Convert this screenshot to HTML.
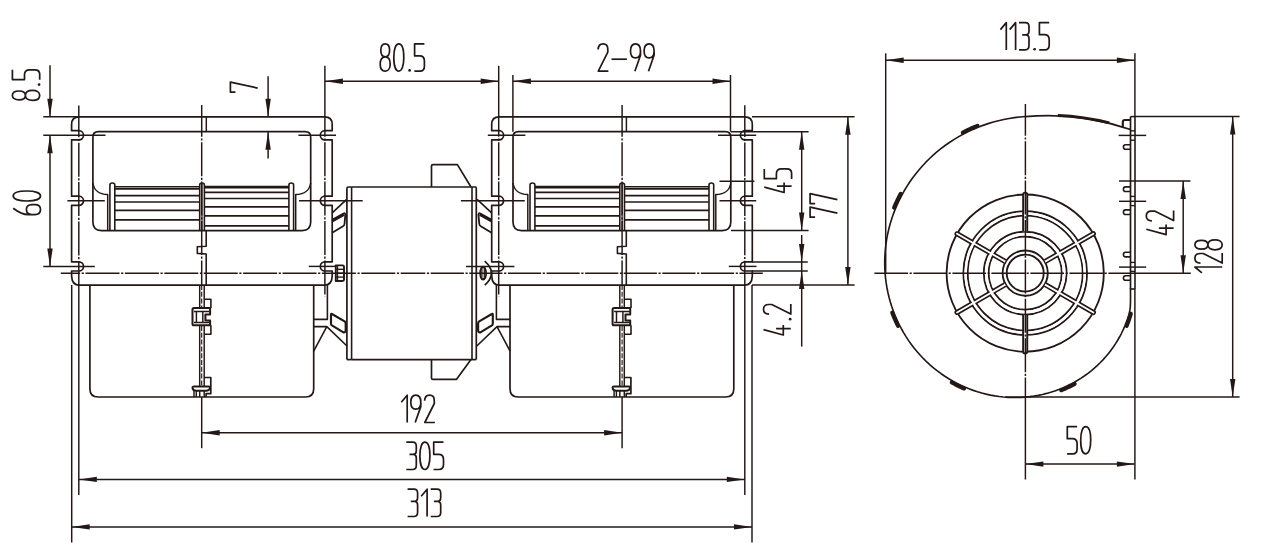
<!DOCTYPE html>
<html><head><meta charset="utf-8"><title>Blower drawing</title>
<style>
html,body{margin:0;padding:0;background:#fff;}
body{width:1263px;height:556px;overflow:hidden;font-family:"Liberation Sans",sans-serif;}
svg{display:block;}
</style></head><body>
<svg width="1263" height="556" viewBox="0 0 1263 556">
<desc>Dimensioned drawing of a double-inlet centrifugal blower: front view (8.5, 60, 7, 80.5, 2-99, 45, 77, 4.2, 192, 305, 313) and side view (113.5, 42, 128, 50).</desc>
<rect x="0" y="0" width="1263" height="556" fill="#ffffff"/>
<g fill="none" stroke="#231815" stroke-linecap="butt" stroke-linejoin="round">
<path d="M79.2,116.8 Q71.6,116.8 71.6,124.4 L71.6,130.7 L78.9,130.7 A4.6,4.6 0 0 1 78.9,139.9 L71.6,139.9 L71.6,196.2 L78.9,196.2 A4.6,4.6 0 0 1 78.9,205.4 L71.6,205.4 L71.6,261.8 L78.9,261.8 A4.6,4.6 0 0 1 78.9,271 L71.6,271 L71.6,276.1 Q72,285.1 79.4,285.1 L324.4,285.1 Q331.8,285.1 332.2,276.1 L332.2,271 L324.9,271 A4.6,4.6 0 0 1 324.9,261.8 L332.2,261.8 L332.2,205.4 L324.9,205.4 A4.6,4.6 0 0 1 324.9,196.2 L332.2,196.2 L332.2,139.9 L324.9,139.9 A4.6,4.6 0 0 1 324.9,130.7 L332.2,130.7 L332.2,124.4 Q332.2,116.8 324.6,116.8 Z" stroke-width="1.69" fill="none"/>
<path d="M101.4,230.6 L302.2,230.6 Q310.7,230.6 310.7,222.1 L310.7,137.2 Q310.7,131.7 305.2,131.7 L98.4,131.7 Q92.9,131.7 92.9,137.2 L92.9,222.1 Q92.9,230.6 101.4,230.6" stroke-width="1.69" fill="none"/>
<path d="M92.9,183 Q94.4,194 107.7,194.6 L107.7,230.6" stroke-width="1.47" fill="none"/>
<path d="M310.7,183 Q309.2,194 295.7,194.6 L295.7,230.6" stroke-width="1.47" fill="none"/>
<path d="M109.9,230.6 L109.9,185 Q109.9,183 112.35,183 Q114.8,183 114.8,185 L114.8,230.6" stroke-width="1.58" fill="none"/>
<path d="M288.9,230.6 L288.9,185 Q288.9,183 291.25,183 Q293.6,183 293.6,185 L293.6,230.6" stroke-width="1.58" fill="none"/>
<path d="M199.7,230.6 L199.7,185 Q199.7,183 202.05,183 Q204.4,183 204.4,185 L204.4,230.6" stroke-width="1.58" fill="none"/>
<line x1="202" y1="184" x2="202" y2="230.6" stroke-width="1.13"/>
<line x1="114.8" y1="186.8" x2="199.7" y2="186.8" stroke-width="1.64"/>
<line x1="114.8" y1="188.9" x2="199.7" y2="188.9" stroke-width="1.64"/>
<line x1="114.8" y1="195.6" x2="199.7" y2="195.6" stroke-width="1.64"/>
<line x1="114.8" y1="202" x2="199.7" y2="202" stroke-width="1.64"/>
<line x1="114.8" y1="210.4" x2="199.7" y2="210.4" stroke-width="1.64"/>
<line x1="114.8" y1="219.9" x2="199.7" y2="219.9" stroke-width="1.64"/>
<line x1="204.3" y1="186.5" x2="288.9" y2="186.5" stroke-width="1.64"/>
<line x1="204.3" y1="187.6" x2="288.9" y2="187.6" stroke-width="1.64"/>
<line x1="204.3" y1="192.4" x2="288.9" y2="192.4" stroke-width="1.64"/>
<line x1="204.3" y1="198.5" x2="288.9" y2="198.5" stroke-width="1.64"/>
<line x1="204.3" y1="206.9" x2="288.9" y2="206.9" stroke-width="1.64"/>
<line x1="204.3" y1="215.9" x2="288.9" y2="215.9" stroke-width="1.64"/>
<line x1="204.3" y1="225.9" x2="288.9" y2="225.9" stroke-width="1.64"/>
<line x1="206.3" y1="116.8" x2="206.3" y2="131.7" stroke-width="1.47"/>
<path d="M206.2,230.6 L206.2,246.3 L197.3,246.8 L197.3,253.4 L206.2,254 L206.2,285.1" stroke-width="1.58" fill="none"/>
<path d="M89.9,285.1 L89.9,388.7 Q89.9,397 98.2,397 L305.4,397 Q313.7,397 313.7,388.7 L313.7,285.1" stroke-width="1.69" fill="none"/>
<line x1="199.7" y1="285.1" x2="199.7" y2="397" stroke-width="1.47"/>
<line x1="204.2" y1="285.1" x2="204.2" y2="397" stroke-width="1.47"/>
<path d="M204.4,299.3 L210.9,299.3 L210.9,308" stroke-width="1.58" fill="none"/>
<path d="M210.1,308 L194,308 Q192.5,308 192.5,309.6 L192.5,323.7 Q192.5,325.3 194,325.3 L210.1,325.3 L210.1,320.6 L205.4,320.6 L205.4,314.6 L210.1,314.6 Z" stroke-width="2.03" fill="#fff"/>
<path d="M194,311.4 L209.6,311.4 M194,322.6 L209.6,322.6 M196.4,311.4 L196.4,322.6 M202.8,311.4 L202.8,322.6" stroke-width="1.47" fill="none"/>
<path d="M210.9,325.3 L210.9,334.3 L204.4,334.3" stroke-width="1.58" fill="none"/>
<path d="M204.2,377.5 L210.8,377.5 L210.8,393.7 L206.1,393.7 L206.1,397" stroke-width="1.69" fill="none"/>
<path d="M194,386.5 L208.6,386.5 Q210.3,386.5 210,388 Q209.5,390.7 206,390.7 L196.4,390.7 Q192.9,390.7 192.5,388 Q192.2,386.5 194,386.5 Z" stroke-width="1.92" fill="#fff"/>
<path d="M194,390.4 L194,397 M196.3,390.7 L196.3,397" stroke-width="1.47" fill="none"/>
<g transform="translate(420.1,0)">
<path d="M79.2,116.8 Q71.6,116.8 71.6,124.4 L71.6,130.7 L78.9,130.7 A4.6,4.6 0 0 1 78.9,139.9 L71.6,139.9 L71.6,196.2 L78.9,196.2 A4.6,4.6 0 0 1 78.9,205.4 L71.6,205.4 L71.6,261.8 L78.9,261.8 A4.6,4.6 0 0 1 78.9,271 L71.6,271 L71.6,276.1 Q72,285.1 79.4,285.1 L324.4,285.1 Q331.8,285.1 332.2,276.1 L332.2,271 L324.9,271 A4.6,4.6 0 0 1 324.9,261.8 L332.2,261.8 L332.2,205.4 L324.9,205.4 A4.6,4.6 0 0 1 324.9,196.2 L332.2,196.2 L332.2,139.9 L324.9,139.9 A4.6,4.6 0 0 1 324.9,130.7 L332.2,130.7 L332.2,124.4 Q332.2,116.8 324.6,116.8 Z" stroke-width="1.69" fill="none"/>
<path d="M101.4,230.6 L302.2,230.6 Q310.7,230.6 310.7,222.1 L310.7,137.2 Q310.7,131.7 305.2,131.7 L98.4,131.7 Q92.9,131.7 92.9,137.2 L92.9,222.1 Q92.9,230.6 101.4,230.6" stroke-width="1.69" fill="none"/>
<path d="M92.9,183 Q94.4,194 107.7,194.6 L107.7,230.6" stroke-width="1.47" fill="none"/>
<path d="M310.7,183 Q309.2,194 295.7,194.6 L295.7,230.6" stroke-width="1.47" fill="none"/>
<path d="M109.9,230.6 L109.9,185 Q109.9,183 112.35,183 Q114.8,183 114.8,185 L114.8,230.6" stroke-width="1.58" fill="none"/>
<path d="M288.9,230.6 L288.9,185 Q288.9,183 291.25,183 Q293.6,183 293.6,185 L293.6,230.6" stroke-width="1.58" fill="none"/>
<path d="M199.7,230.6 L199.7,185 Q199.7,183 202.05,183 Q204.4,183 204.4,185 L204.4,230.6" stroke-width="1.58" fill="none"/>
<line x1="202" y1="184" x2="202" y2="230.6" stroke-width="1.13"/>
<line x1="114.8" y1="186.5" x2="199.7" y2="186.5" stroke-width="1.64"/>
<line x1="114.8" y1="187.6" x2="199.7" y2="187.6" stroke-width="1.64"/>
<line x1="114.8" y1="192.4" x2="199.7" y2="192.4" stroke-width="1.64"/>
<line x1="114.8" y1="198.5" x2="199.7" y2="198.5" stroke-width="1.64"/>
<line x1="114.8" y1="206.9" x2="199.7" y2="206.9" stroke-width="1.64"/>
<line x1="114.8" y1="215.9" x2="199.7" y2="215.9" stroke-width="1.64"/>
<line x1="114.8" y1="225.9" x2="199.7" y2="225.9" stroke-width="1.64"/>
<line x1="204.3" y1="186.8" x2="288.9" y2="186.8" stroke-width="1.64"/>
<line x1="204.3" y1="188.9" x2="288.9" y2="188.9" stroke-width="1.64"/>
<line x1="204.3" y1="195.6" x2="288.9" y2="195.6" stroke-width="1.64"/>
<line x1="204.3" y1="202" x2="288.9" y2="202" stroke-width="1.64"/>
<line x1="204.3" y1="210.4" x2="288.9" y2="210.4" stroke-width="1.64"/>
<line x1="204.3" y1="219.9" x2="288.9" y2="219.9" stroke-width="1.64"/>
<line x1="206.3" y1="116.8" x2="206.3" y2="131.7" stroke-width="1.47"/>
<path d="M206.2,230.6 L206.2,246.3 L197.3,246.8 L197.3,253.4 L206.2,254 L206.2,285.1" stroke-width="1.58" fill="none"/>
<path d="M89.9,285.1 L89.9,388.7 Q89.9,397 98.2,397 L305.4,397 Q313.7,397 313.7,388.7 L313.7,285.1" stroke-width="1.69" fill="none"/>
<line x1="199.7" y1="285.1" x2="199.7" y2="397" stroke-width="1.47"/>
<line x1="204.2" y1="285.1" x2="204.2" y2="397" stroke-width="1.47"/>
<path d="M204.4,299.3 L210.9,299.3 L210.9,308" stroke-width="1.58" fill="none"/>
<path d="M210.1,308 L194,308 Q192.5,308 192.5,309.6 L192.5,323.7 Q192.5,325.3 194,325.3 L210.1,325.3 L210.1,320.6 L205.4,320.6 L205.4,314.6 L210.1,314.6 Z" stroke-width="2.03" fill="#fff"/>
<path d="M194,311.4 L209.6,311.4 M194,322.6 L209.6,322.6 M196.4,311.4 L196.4,322.6 M202.8,311.4 L202.8,322.6" stroke-width="1.47" fill="none"/>
<path d="M210.9,325.3 L210.9,334.3 L204.4,334.3" stroke-width="1.58" fill="none"/>
<path d="M204.2,377.5 L210.8,377.5 L210.8,393.7 L206.1,393.7 L206.1,397" stroke-width="1.69" fill="none"/>
<path d="M194,386.5 L208.6,386.5 Q210.3,386.5 210,388 Q209.5,390.7 206,390.7 L196.4,390.7 Q192.9,390.7 192.5,388 Q192.2,386.5 194,386.5 Z" stroke-width="1.92" fill="#fff"/>
<path d="M194,390.4 L194,397 M196.3,390.7 L196.3,397" stroke-width="1.47" fill="none"/>
</g>
<path d="M346.9,359.6 L346.9,188.5 Q346.9,187 348.4,187 L351.6,187" stroke-width="1.69" fill="none"/>
<line x1="351.6" y1="187" x2="351.6" y2="359.6" stroke-width="1.58"/>
<line x1="332.2" y1="212.8" x2="346.7" y2="199.4" stroke-width="1.64"/>
<path d="M332.2,219.8 L343.5,213.5 Q345.5,212.6 345.3,215.4 L344.5,224 Q344.3,225.6 343,226.3 L332.2,232.7" stroke-width="1.81" fill="none"/>
<line x1="332.2" y1="221" x2="344" y2="214.6" stroke-width="2.71"/>
<path d="M327.4,285.1 L327.4,319.4 L313.7,319.4 M313.7,326.6 L326.8,326.6 L313.7,351.2 M326.8,326.6 L347,346" stroke-width="1.58" fill="none"/>
<path d="M332.4,314.2 L344.6,321.4 Q345.7,322.2 345.7,323.6 L345.7,330.4 Q345.6,333 343,332.2 L331.9,325.4 Q331,324.8 331,323.4 L331,315 Q331,313 332.4,314.2 Z" stroke-width="2.15" fill="none"/>
<path d="M476.3,359.6 L476.3,188.5 Q476.3,187 475.4,187 L472,187" stroke-width="1.69" fill="none"/>
<line x1="472" y1="187" x2="472" y2="359.6" stroke-width="1.58"/>
<line x1="491.6" y1="212.8" x2="477.1" y2="199.4" stroke-width="1.64"/>
<path d="M491.6,219.8 L480.3,213.5 Q478.3,212.6 478.5,215.4 L479.3,224 Q479.5,225.6 480.8,226.3 L491.6,232.7" stroke-width="1.81" fill="none"/>
<line x1="491.6" y1="221" x2="479.8" y2="214.6" stroke-width="2.71"/>
<path d="M496.4,285.1 L496.4,319.4 L510.1,319.4 M510.1,326.6 L497,326.6 L510.1,351.2 M497,326.6 L476.8,346" stroke-width="1.58" fill="none"/>
<path d="M491.4,314.2 L479.2,321.4 Q478.1,322.2 478.1,323.6 L478.1,330.4 Q478.2,333 480.8,332.2 L491.9,325.4 Q492.8,324.8 492.8,323.4 L492.8,315 Q492.8,313 491.4,314.2 Z" stroke-width="2.15" fill="none"/>
<line x1="351.6" y1="187" x2="472" y2="187" stroke-width="1.69"/>
<line x1="351.6" y1="359.6" x2="472" y2="359.6" stroke-width="1.69"/>
<line x1="346.9" y1="359.6" x2="351.6" y2="359.6" stroke-width="1.69"/>
<line x1="472" y1="359.6" x2="476.3" y2="359.6" stroke-width="1.69"/>
<path d="M431.5,187 L431.5,166 Q431.5,164.6 433,164.6 L457.4,164.6 L471,187" stroke-width="1.69" fill="none"/>
<path d="M431.5,359.6 L431.5,378 Q431.5,379.4 433,379.4 L456.4,379.4 L471,359.6" stroke-width="1.69" fill="none"/>
<path d="M335.8,265.4 L342.6,265.4 Q344,265.4 344,266.8 L344,279.6 Q344,281 342.6,281 L335.8,281 Z" stroke-width="1.92" fill="none"/>
<line x1="335.8" y1="269.3" x2="344" y2="269.3" stroke-width="1.36"/>
<line x1="335.8" y1="273.2" x2="344" y2="273.2" stroke-width="1.36"/>
<line x1="335.8" y1="277.1" x2="344" y2="277.1" stroke-width="1.36"/>
<line x1="337.6" y1="265.4" x2="337.6" y2="281" stroke-width="1.13"/>
<ellipse cx="483.1" cy="273.2" rx="3" ry="6.5" stroke-width="1.7"/>
<path d="M481.9,267.6 L484.3,267.6 L484.3,278.8 L481.9,278.8 Z" stroke-width="1.24" fill="none"/>
<path d="M484.7,261.2 Q498.2,273.2 484.7,285.2" stroke-width="1.69" fill="none"/>
<line x1="60.8" y1="273.2" x2="413" y2="273.2" stroke-width="1.47" stroke-dasharray="34 1.6 2.2 1.6" stroke-dashoffset="14.7"/>
<line x1="413" y1="273.2" x2="762.8" y2="273.2" stroke-width="1.47" stroke-dasharray="33.2 1.6 2.2 1.6" stroke-dashoffset="20.9"/>
<line x1="201.7" y1="105" x2="201.7" y2="285" stroke-width="1.47" stroke-dasharray="34 1.6 2.2 1.6" stroke-dashoffset="2.2"/>
<line x1="201.7" y1="285" x2="201.7" y2="307" stroke-width="1.13" stroke-dasharray="5 1.8"/>
<line x1="201.7" y1="326" x2="201.7" y2="386" stroke-width="1.13" stroke-dasharray="5 1.8"/>
<line x1="201.7" y1="397" x2="201.7" y2="448.2" stroke-width="1.47"/>
<line x1="622.1" y1="105" x2="622.1" y2="285" stroke-width="1.47" stroke-dasharray="34 1.6 2.2 1.6" stroke-dashoffset="2.2"/>
<line x1="622.1" y1="285" x2="622.1" y2="307" stroke-width="1.13" stroke-dasharray="5 1.8"/>
<line x1="622.1" y1="326" x2="622.1" y2="386" stroke-width="1.13" stroke-dasharray="5 1.8"/>
<line x1="622.1" y1="397" x2="622.1" y2="448.2" stroke-width="1.47"/>
<line x1="78.8" y1="105.5" x2="78.8" y2="285" stroke-width="1.47" stroke-dasharray="34 1.6 2.2 1.6" stroke-dashoffset="2.2"/>
<line x1="78.8" y1="285" x2="78.8" y2="494.9" stroke-width="1.47"/>
<line x1="324.9" y1="65.8" x2="324.9" y2="105" stroke-width="1.47"/>
<line x1="324.9" y1="105" x2="324.9" y2="296.3" stroke-width="1.47" stroke-dasharray="34 1.6 2.2 1.6" stroke-dashoffset="2.2"/>
<line x1="498.7" y1="65.8" x2="498.7" y2="105" stroke-width="1.47"/>
<line x1="498.7" y1="105" x2="498.7" y2="296.3" stroke-width="1.47" stroke-dasharray="34 1.6 2.2 1.6" stroke-dashoffset="2.2"/>
<line x1="744.8" y1="105.3" x2="744.8" y2="285" stroke-width="1.47" stroke-dasharray="34 1.6 2.2 1.6" stroke-dashoffset="2.2"/>
<line x1="744.8" y1="285" x2="744.8" y2="494.9" stroke-width="1.47"/>
<line x1="43.3" y1="135.3" x2="105.5" y2="135.3" stroke-width="1.47"/>
<line x1="298.4" y1="135.3" x2="336" y2="135.3" stroke-width="1.47"/>
<line x1="487.8" y1="135.3" x2="525.4" y2="135.3" stroke-width="1.47"/>
<line x1="718" y1="135.3" x2="756.2" y2="135.3" stroke-width="1.47"/>
<line x1="67.4" y1="200.8" x2="104.8" y2="200.8" stroke-width="1.47"/>
<line x1="299" y1="200.8" x2="362.7" y2="200.8" stroke-width="1.47"/>
<line x1="460.9" y1="200.8" x2="524.8" y2="200.8" stroke-width="1.47"/>
<line x1="719.5" y1="200.8" x2="756.2" y2="200.8" stroke-width="1.47"/>
<line x1="719.5" y1="181.2" x2="754.4" y2="181.2" stroke-width="1.47"/>
<line x1="43.3" y1="266.4" x2="94.8" y2="266.4" stroke-width="1.47"/>
<line x1="308.8" y1="266.4" x2="335.8" y2="266.4" stroke-width="1.47"/>
<line x1="466" y1="266.4" x2="514.4" y2="266.4" stroke-width="1.47"/>
<line x1="728.8" y1="266.4" x2="756.5" y2="266.4" stroke-width="1.47"/>
<line x1="43.3" y1="116.8" x2="79" y2="116.8" stroke-width="1.47"/>
<line x1="50" y1="65.3" x2="50" y2="116.8" stroke-width="1.47"/>
<polygon points="50,116.8 47.3,98.8 52.7,98.8" fill="#231815" stroke="none"/>
<line x1="50" y1="135.3" x2="50" y2="266.4" stroke-width="1.47"/>
<polygon points="50,135.3 47.3,153.3 52.7,153.3" fill="#231815" stroke="none"/>
<polygon points="50,266.4 47.3,248.4 52.7,248.4" fill="#231815" stroke="none"/>
<line x1="268.1" y1="76.3" x2="268.1" y2="116.8" stroke-width="1.47"/>
<polygon points="268.1,116.8 265.4,98.8 270.8,98.8" fill="#231815" stroke="none"/>
<line x1="268.1" y1="131.7" x2="268.1" y2="158.6" stroke-width="1.47"/>
<polygon points="268.1,131.7 265.4,149.7 270.8,149.7" fill="#231815" stroke="none"/>
<line x1="324.9" y1="81.3" x2="498.7" y2="81.3" stroke-width="1.47"/>
<polygon points="324.9,81.3 342.9,78.6 342.9,84" fill="#231815" stroke="none"/>
<polygon points="498.7,81.3 480.7,78.6 480.7,84" fill="#231815" stroke="none"/>
<line x1="512.9" y1="75" x2="512.9" y2="131.7" stroke-width="1.47"/>
<line x1="730.5" y1="75" x2="730.5" y2="131.7" stroke-width="1.47"/>
<line x1="512.9" y1="81.3" x2="730.5" y2="81.3" stroke-width="1.47"/>
<polygon points="512.9,81.3 530.9,78.6 530.9,84" fill="#231815" stroke="none"/>
<polygon points="730.5,81.3 712.5,78.6 712.5,84" fill="#231815" stroke="none"/>
<line x1="752" y1="116.8" x2="854.6" y2="116.8" stroke-width="1.47"/>
<line x1="731" y1="131.7" x2="808.6" y2="131.7" stroke-width="1.47"/>
<line x1="731" y1="230.6" x2="808.6" y2="230.6" stroke-width="1.47"/>
<line x1="752" y1="285.1" x2="854.6" y2="285.1" stroke-width="1.47"/>
<line x1="752" y1="261.9" x2="807.8" y2="261.9" stroke-width="1.47"/>
<line x1="752" y1="270.9" x2="807.8" y2="270.9" stroke-width="1.47"/>
<line x1="801.7" y1="131.7" x2="801.7" y2="230.6" stroke-width="1.47"/>
<polygon points="801.7,131.7 799,149.7 804.4,149.7" fill="#231815" stroke="none"/>
<polygon points="801.7,230.6 799,212.6 804.4,212.6" fill="#231815" stroke="none"/>
<line x1="801.7" y1="235" x2="801.7" y2="346.6" stroke-width="1.47"/>
<polygon points="801.7,261.9 799,243.9 804.4,243.9" fill="#231815" stroke="none"/>
<polygon points="801.7,270.9 799,288.9 804.4,288.9" fill="#231815" stroke="none"/>
<line x1="847.9" y1="116.8" x2="847.9" y2="285.1" stroke-width="1.47"/>
<polygon points="847.9,116.8 845.2,134.8 850.6,134.8" fill="#231815" stroke="none"/>
<polygon points="847.9,285.1 845.2,267.1 850.6,267.1" fill="#231815" stroke="none"/>
<line x1="201.7" y1="432.8" x2="622.1" y2="432.8" stroke-width="1.47"/>
<polygon points="201.7,432.8 219.7,430.1 219.7,435.5" fill="#231815" stroke="none"/>
<polygon points="622.1,432.8 604.1,430.1 604.1,435.5" fill="#231815" stroke="none"/>
<line x1="78.8" y1="479.4" x2="744.8" y2="479.4" stroke-width="1.47"/>
<polygon points="78.8,479.4 96.8,476.7 96.8,482.1" fill="#231815" stroke="none"/>
<polygon points="744.8,479.4 726.8,476.7 726.8,482.1" fill="#231815" stroke="none"/>
<line x1="71.7" y1="285.1" x2="71.7" y2="542.5" stroke-width="1.47"/>
<line x1="752" y1="285.1" x2="752" y2="542.5" stroke-width="1.47"/>
<line x1="71.7" y1="526.9" x2="752" y2="526.9" stroke-width="1.47"/>
<polygon points="71.7,526.9 89.7,524.2 89.7,529.6" fill="#231815" stroke="none"/>
<polygon points="752,526.9 734,524.2 734,529.6" fill="#231815" stroke="none"/>
<path d="M1025.4,116.5 L1019.94,116.96 L1014.52,117.61 L1009.13,118.45 L1003.79,119.47 L998.51,120.68 L993.27,122.06 L988.11,123.63 L983.01,125.37 L977.99,127.29 L973.05,129.37 L968.2,131.63 L963.44,134.04 L958.78,136.62 L954.23,139.35 L949.78,142.23 L945.45,145.26 L941.24,148.43 L937.15,151.73 L933.19,155.18 L929.36,158.74 L925.67,162.44 L922.12,166.25 L918.71,170.17 L915.45,174.2 L912.34,178.33 L909.39,182.56 L906.59,186.88 L903.95,191.28 L901.47,195.76 L899.16,200.32 L897.02,204.94 L895.04,209.62 L893.23,214.36 L891.6,219.14 L890.14,223.97 L888.85,228.83 L887.73,233.72 L886.79,238.64 L886.03,243.58 L885.44,248.52 L885.02,253.47 L884.78,258.42 L884.71,263.36 L884.82,268.29 L885.1,273.2 L885.55,278.08 L886.17,282.94 L886.96,287.75 L887.91,292.52 L889.03,297.25 L890.3,301.92 L891.74,306.52 L893.34,311.07 L895.09,315.54 L896.99,319.94 L899.03,324.26 L901.22,328.49 L903.56,332.63 L906.03,336.67 L908.63,340.62 L911.36,344.46 L914.22,348.19 L917.2,351.81 L920.3,355.31 L923.51,358.7 L926.82,361.96 L930.24,365.09 L933.76,368.09 L937.37,370.96 L941.07,373.7 L944.86,376.29 L948.72,378.74 L952.65,381.05 L956.65,383.22 L960.72,385.23 L964.84,387.1 L969.01,388.82 L973.23,390.38 L977.48,391.8 L981.78,393.05 L986.1,394.16 L990.44,395.1 L994.81,395.89 L999.19,396.53 L1003.57,397.01 L1007.95,397.34 L1012.33,397.51 L1016.71,397.53 L1021.06,397.39 L1025.4,397.1 L1029.71,396.66 L1033.99,396.07 L1038.24,395.33 L1042.44,394.45 L1046.6,393.42 L1050.71,392.25 L1054.76,390.94 L1058.75,389.5 L1062.67,387.92 L1066.53,386.2 L1070.31,384.36 L1074.02,382.39 L1077.64,380.3 L1081.17,378.09 L1084.62,375.77 L1087.97,373.33 L1091.22,370.78 L1094.37,368.13 L1097.42,365.38 L1100.36,362.53 L1103.18,359.59 L1105.9,356.56 L1108.5,353.45 L1110.98,350.25 L1113.33,346.98 L1115.57,343.65 L1117.68,340.24 L1119.66,336.78 L1121.51,333.26 L1123.23,329.68 L1124.82,326.06 L1126.28,322.4 L1127.6,318.7 L1128.79,314.97 L1129.33,313.1 Q1130.5,308.5 1130.5,302 L1130.5,288.2" stroke-width="1.64" fill="none"/>
<path d="M1025.4,116.63 A249.5,249.5 0 0 1 1130.4,129.6" stroke-width="1.64" fill="none"/>
<path d="M1057.8,115.49 A249.5,249.5 0 0 1 1109.4,122.97" stroke-width="2.82" fill="none"/>
<path d="M977.5,125.77 L976.24,126.28 L974.99,126.8 L973.74,127.33 L972.5,127.87 L971.27,128.42 L970.04,128.99 L968.82,129.56 L967.6,130.14 L966.39,130.74 L965.18,131.34 L963.99,131.96 L962.79,132.58" stroke-width="4.07" fill="none" stroke-linecap="round"/>
<path d="M900.73,193.78 L900.12,194.91 L899.52,196.06 L898.93,197.21 L898.35,198.36 L897.78,199.52 L897.22,200.68 L896.67,201.84 L896.13,203.01 L895.6,204.19 L895.09,205.36 L894.58,206.55 L894.09,207.73" stroke-width="4.07" fill="none" stroke-linecap="round"/>
<path d="M892.23,312.65 L892.66,313.78 L893.11,314.91 L893.56,316.04 L894.03,317.16 L894.5,318.27 L894.99,319.38 L895.48,320.49 L895.99,321.59 L896.5,322.68 L897.02,323.77 L897.55,324.85 L898.09,325.93" stroke-width="4.07" fill="none" stroke-linecap="round"/>
<path d="M951.76,382.38 L952.76,382.94 L953.77,383.5 L954.79,384.04 L955.81,384.58 L956.83,385.1 L957.85,385.62 L958.88,386.12 L959.92,386.62 L960.95,387.11 L961.99,387.59 L963.04,388.06 L964.09,388.51" stroke-width="4.07" fill="none" stroke-linecap="round"/>
<path d="M1061.19,390.25 L1062.18,389.85 L1063.17,389.44 L1064.15,389.02 L1065.13,388.59 L1066.11,388.15 L1067.08,387.71 L1068.04,387.25 L1069,386.79 L1069.96,386.32 L1070.91,385.84 L1071.86,385.36 L1072.8,384.87 L1073.74,384.36 L1074.67,383.85" stroke-width="4.07" fill="none" stroke-linecap="round"/>
<path d="M1126.62,325.89 L1126.99,324.96 L1127.36,324.03 L1127.72,323.1 L1128.07,322.17 L1128.41,321.23 L1128.74,320.29 L1129.06,319.35 L1129.38,318.41 L1129.69,317.47 L1129.98,316.52 L1130.27,315.57 L1130.55,314.62 L1130.83,313.67" stroke-width="4.07" fill="none" stroke-linecap="round"/>
<line x1="1130.5" y1="116.6" x2="1130.5" y2="289" stroke-width="1.69"/>
<line x1="1135" y1="116.6" x2="1135" y2="289" stroke-width="1.58"/>
<line x1="1130.5" y1="116.6" x2="1135" y2="116.6" stroke-width="1.58"/>
<line x1="1130.5" y1="289" x2="1135" y2="289" stroke-width="1.58"/>
<line x1="1130.5" y1="130.8" x2="1135" y2="130.8" stroke-width="1.36"/>
<line x1="1130.5" y1="140.2" x2="1135" y2="140.2" stroke-width="1.36"/>
<line x1="1130.5" y1="196.4" x2="1135" y2="196.4" stroke-width="1.36"/>
<line x1="1130.5" y1="205.6" x2="1135" y2="205.6" stroke-width="1.36"/>
<line x1="1130.5" y1="262.4" x2="1135" y2="262.4" stroke-width="1.36"/>
<line x1="1130.5" y1="271.4" x2="1135" y2="271.4" stroke-width="1.36"/>
<path d="M1130.5,120 L1125,120 Q1122.8,120 1122.8,122.4 L1122.8,127.4" stroke-width="2.15" fill="none"/>
<path d="M1130.5,144.7 L1125.6,144.7 Q1123.4,144.7 1123.4,147 Q1123.4,149.3 1125.6,149.3 L1130.5,149.3" stroke-width="1.58" fill="none"/>
<path d="M1130.5,186.9 L1125.6,186.9 Q1123.4,186.9 1123.4,189.2 Q1123.4,191.5 1125.6,191.5 L1130.5,191.5" stroke-width="1.58" fill="none"/>
<path d="M1130.5,209.9 L1125.6,209.9 Q1123.4,209.9 1123.4,212.2 Q1123.4,214.5 1125.6,214.5 L1130.5,214.5" stroke-width="1.58" fill="none"/>
<path d="M1130.5,252.3 L1125.6,252.3 Q1123.4,252.3 1123.4,254.6 Q1123.4,256.9 1125.6,256.9 L1130.5,256.9" stroke-width="1.58" fill="none"/>
<path d="M1130.5,275.7 L1125.6,275.7 Q1123.4,275.7 1123.4,278 Q1123.4,280.3 1125.6,280.3 L1130.5,280.3" stroke-width="1.58" fill="none"/>
<circle cx="1025.2" cy="273.1" r="78.6" stroke-width="1.86"/>
<circle cx="1025.2" cy="273.1" r="61.8" stroke-width="1.86"/>
<circle cx="1025.2" cy="273.1" r="57.5" stroke-width="1.86"/>
<circle cx="1025.2" cy="273.1" r="41.4" stroke-width="1.86"/>
<circle cx="1025.2" cy="273.1" r="36.6" stroke-width="1.86"/>
<circle cx="1025.2" cy="273.1" r="22.6" stroke-width="1.86"/>
<circle cx="1025.2" cy="273.1" r="18.5" stroke-width="1.86"/>
<path d="M1045.99,263.12 L1094.23,235.27 A1.75,1.75 0 0 0 1092.48,232.23 L1044.24,260.08" stroke-width="1.69" fill="#fff"/>
<path d="M1006.16,260.08 L957.92,232.23 A1.75,1.75 0 0 0 956.17,235.27 L1004.41,263.12" stroke-width="1.69" fill="#fff"/>
<path d="M1004.41,283.08 L956.17,310.93 A1.75,1.75 0 0 0 957.92,313.97 L1006.16,286.12" stroke-width="1.69" fill="#fff"/>
<path d="M1044.24,286.12 L1092.48,313.97 A1.75,1.75 0 0 0 1094.23,310.93 L1045.99,283.08" stroke-width="1.69" fill="#fff"/>
<path d="M964.35,273.1 A60.85,60.85 0 1 0 1086.05,273.1 A60.85,60.85 0 1 0 964.35,273.1 Z M966.75,273.1 A58.45,58.45 0 1 1 1083.65,273.1 A58.45,58.45 0 1 1 966.75,273.1 Z" fill="#fff" fill-rule="evenodd" stroke="none"/>
<path d="M984.75,273.1 A40.45,40.45 0 1 0 1065.65,273.1 A40.45,40.45 0 1 0 984.75,273.1 Z M987.65,273.1 A37.55,37.55 0 1 1 1062.75,273.1 A37.55,37.55 0 1 1 987.65,273.1 Z" fill="#fff" fill-rule="evenodd" stroke="none"/>
<path d="M1027.25,231.3 L1027.25,194.7 A2.05,2.05 0 0 0 1023.15,194.7 L1023.15,231.3" stroke-width="1.92" fill="#fff"/>
<path d="M1023.15,314.9 L1023.15,351.5 A2.05,2.05 0 0 0 1027.25,351.5 L1027.25,314.9" stroke-width="1.92" fill="#fff"/>
<line x1="874.4" y1="273.2" x2="1140" y2="273.2" stroke-width="1.47" stroke-dasharray="33.6 1.6 2.2 1.6"/>
<line x1="1140" y1="273.2" x2="1190.8" y2="273.2" stroke-width="1.47"/>
<line x1="1025.4" y1="104" x2="1025.4" y2="397" stroke-width="1.47" stroke-dasharray="34 1.6 2.2 1.6" stroke-dashoffset="2.2"/>
<line x1="1025.4" y1="397" x2="1025.4" y2="479.5" stroke-width="1.47"/>
<line x1="1118.6" y1="135.4" x2="1146.2" y2="135.4" stroke-width="1.47"/>
<line x1="1119" y1="201.3" x2="1146.2" y2="201.3" stroke-width="1.47"/>
<line x1="1119" y1="267.1" x2="1146.2" y2="267.1" stroke-width="1.47"/>
<line x1="1119" y1="180.9" x2="1190.4" y2="180.9" stroke-width="1.47"/>
<line x1="885.7" y1="53.3" x2="885.7" y2="273.2" stroke-width="1.47"/>
<line x1="1134.9" y1="53.3" x2="1134.9" y2="116.6" stroke-width="1.47"/>
<line x1="885.7" y1="60.3" x2="1134.9" y2="60.3" stroke-width="1.47"/>
<polygon points="885.7,60.3 903.7,57.6 903.7,63" fill="#231815" stroke="none"/>
<polygon points="1134.9,60.3 1116.9,57.6 1116.9,63" fill="#231815" stroke="none"/>
<line x1="1134.9" y1="289" x2="1134.9" y2="479.5" stroke-width="1.47"/>
<line x1="1025.4" y1="464.1" x2="1134.9" y2="464.1" stroke-width="1.47"/>
<polygon points="1025.4,464.1 1043.4,461.4 1043.4,466.8" fill="#231815" stroke="none"/>
<polygon points="1134.9,464.1 1116.9,461.4 1116.9,466.8" fill="#231815" stroke="none"/>
<line x1="1005.3" y1="397.1" x2="1239.6" y2="397.1" stroke-width="1.47"/>
<line x1="1135" y1="116.6" x2="1239.6" y2="116.6" stroke-width="1.47"/>
<line x1="1232.7" y1="116.6" x2="1232.7" y2="397.1" stroke-width="1.47"/>
<polygon points="1232.7,116.6 1230,134.6 1235.4,134.6" fill="#231815" stroke="none"/>
<polygon points="1232.7,397.1 1230,379.1 1235.4,379.1" fill="#231815" stroke="none"/>
<line x1="1183.2" y1="180.9" x2="1183.2" y2="273.2" stroke-width="1.47"/>
<polygon points="1183.2,180.9 1180.5,198.9 1185.9,198.9" fill="#231815" stroke="none"/>
<polygon points="1183.2,273.2 1180.5,255.2 1185.9,255.2" fill="#231815" stroke="none"/>
<g role="img" aria-label="8.5" transform="translate(12.4,100.4) rotate(-90)" fill="none" stroke-width="1.7" stroke-linejoin="round" stroke-linecap="butt"><title>8.5</title><path transform="translate(0,0)" d="M5,13 C2.2,13 0.6,10.4 0.6,6.5 C0.6,2.6 2.2,0 5,0 C7.8,0 9.4,2.6 9.4,6.5 C9.4,10.4 7.8,13 5,13 C8.2,13 10,15.8 10,20.1 C10,24.4 8.2,27.3 5,27.3 C1.8,27.3 0,24.4 0,20.1 C0,15.8 1.8,13 5,13 Z"/><circle cx="15.8" cy="26.65" r="1.35" fill="#231815" stroke="none"/><path transform="translate(20.6,0)" d="M10,0 L0.2,0 L0.2,12.1 L5.2,12.1 C8.4,12.1 10,14 10,17.2 L10,22.4 C10,25.5 8.4,27.3 5.6,27.3 L0,27.3"/></g>
<g role="img" aria-label="60" transform="translate(13.2,214.6) rotate(-90)" fill="none" stroke-width="1.7" stroke-linejoin="round" stroke-linecap="butt"><title>60</title><path transform="translate(0,0)" d="M6.4,0 C3,4.5 0,10 0,15 L0,21.8 C0,25.4 2,27.3 5,27.3 C8,27.3 10,25.4 10,21.8 L10,18.6 C10,15 8,13.2 5,13.2 C2,13.2 0,15 0,18.6"/><path transform="translate(13.6,0)" d="M5,0 C8,0 10,5 10,13.65 C10,22.3 8,27.3 5,27.3 C2,27.3 0,22.3 0,13.65 C0,5 2,0 5,0 Z"/></g>
<g role="img" aria-label="7" transform="translate(230.4,92.1) rotate(-90)" fill="none" stroke-width="1.7" stroke-linejoin="round" stroke-linecap="butt"><title>7</title><path transform="translate(0,0)" d="M0,5 L0,0 L10,0 L4,27.3"/></g>
<g role="img" aria-label="80.5" transform="translate(380.2,43.8)" fill="none" stroke-width="1.7" stroke-linejoin="round" stroke-linecap="butt"><title>80.5</title><path transform="translate(0,0)" d="M5,13 C2.2,13 0.6,10.4 0.6,6.5 C0.6,2.6 2.2,0 5,0 C7.8,0 9.4,2.6 9.4,6.5 C9.4,10.4 7.8,13 5,13 C8.2,13 10,15.8 10,20.1 C10,24.4 8.2,27.3 5,27.3 C1.8,27.3 0,24.4 0,20.1 C0,15.8 1.8,13 5,13 Z"/><path transform="translate(13.6,0)" d="M5,0 C8,0 10,5 10,13.65 C10,22.3 8,27.3 5,27.3 C2,27.3 0,22.3 0,13.65 C0,5 2,0 5,0 Z"/><circle cx="29.4" cy="26.65" r="1.35" fill="#231815" stroke="none"/><path transform="translate(34.2,0)" d="M10,0 L0.2,0 L0.2,12.1 L5.2,12.1 C8.4,12.1 10,14 10,17.2 L10,22.4 C10,25.5 8.4,27.3 5.6,27.3 L0,27.3"/></g>
<g role="img" aria-label="2-99" transform="translate(597.9,43.9)" fill="none" stroke-width="1.7" stroke-linejoin="round" stroke-linecap="butt"><title>2-99</title><path transform="translate(0,0)" d="M0.2,5.6 C0.4,2 2.4,0 5.1,0 C8,0 9.9,2 9.9,5.2 L9.9,8.3 L0.4,27.3 L10.5,27.3"/><path transform="translate(13.6,0)" d="M0,15.3 L15.4,15.3"/><path transform="translate(32.6,0)" d="M10,7 C10,2.6 8,0 5,0 C2,0 0,2.6 0,7 C0,11.4 2,14 5,14 C8,14 10,11.4 10,7 L10,11.4 L4.4,27.3"/><path transform="translate(46.2,0)" d="M10,7 C10,2.6 8,0 5,0 C2,0 0,2.6 0,7 C0,11.4 2,14 5,14 C8,14 10,11.4 10,7 L10,11.4 L4.4,27.3"/></g>
<g role="img" aria-label="45" transform="translate(764.3,192.5) rotate(-90)" fill="none" stroke-width="1.7" stroke-linejoin="round" stroke-linecap="butt"><title>45</title><path transform="translate(0,0)" d="M5.4,0 L0,19.8 L10,19.8 M6.4,12.6 L6.4,27.3"/><path transform="translate(13.6,0)" d="M10,0 L0.2,0 L0.2,12.1 L5.2,12.1 C8.4,12.1 10,14 10,17.2 L10,22.4 C10,25.5 8.4,27.3 5.6,27.3 L0,27.3"/></g>
<g role="img" aria-label="77" transform="translate(810.1,217.2) rotate(-90)" fill="none" stroke-width="1.7" stroke-linejoin="round" stroke-linecap="butt"><title>77</title><path transform="translate(0,0)" d="M0,5 L0,0 L10,0 L4,27.3"/><path transform="translate(13.6,0)" d="M0,5 L0,0 L10,0 L4,27.3"/></g>
<g role="img" aria-label="4.2" transform="translate(763.5,335) rotate(-90)" fill="none" stroke-width="1.7" stroke-linejoin="round" stroke-linecap="butt"><title>4.2</title><path transform="translate(0,0)" d="M5.4,0 L0,19.8 L10,19.8 M6.4,12.6 L6.4,27.3"/><circle cx="15.8" cy="26.65" r="1.35" fill="#231815" stroke="none"/><path transform="translate(20.6,0)" d="M0.2,5.6 C0.4,2 2.4,0 5.1,0 C8,0 9.9,2 9.9,5.2 L9.9,8.3 L0.4,27.3 L10.5,27.3"/></g>
<g role="img" aria-label="192" transform="translate(401.3,395.2)" fill="none" stroke-width="1.7" stroke-linejoin="round" stroke-linecap="butt"><title>192</title><path transform="translate(0,0)" d="M0,7 L5.9,0 L5.9,27.3"/><path transform="translate(9.5,0)" d="M10,7 C10,2.6 8,0 5,0 C2,0 0,2.6 0,7 C0,11.4 2,14 5,14 C8,14 10,11.4 10,7 L10,11.4 L4.4,27.3"/><path transform="translate(23.1,0)" d="M0.2,5.6 C0.4,2 2.4,0 5.1,0 C8,0 9.9,2 9.9,5.2 L9.9,8.3 L0.4,27.3 L10.5,27.3"/></g>
<g role="img" aria-label="305" transform="translate(406.3,442.2)" fill="none" stroke-width="1.7" stroke-linejoin="round" stroke-linecap="butt"><title>305</title><path transform="translate(0,0)" d="M0,0 L6.4,0 C9,0 10,1.7 10,4 L10,8.4 C10,10.9 8.8,12.2 6.8,12.2 L3.2,12.2 M6.8,12.2 C8.9,12.2 10,13.7 10,16 L10,23 C10,25.7 8.9,27.3 6.4,27.3 L0,27.3"/><path transform="translate(13.6,0)" d="M5,0 C8,0 10,5 10,13.65 C10,22.3 8,27.3 5,27.3 C2,27.3 0,22.3 0,13.65 C0,5 2,0 5,0 Z"/><path transform="translate(27.2,0)" d="M10,0 L0.2,0 L0.2,12.1 L5.2,12.1 C8.4,12.1 10,14 10,17.2 L10,22.4 C10,25.5 8.4,27.3 5.6,27.3 L0,27.3"/></g>
<g role="img" aria-label="313" transform="translate(407.6,489.2)" fill="none" stroke-width="1.7" stroke-linejoin="round" stroke-linecap="butt"><title>313</title><path transform="translate(0,0)" d="M0,0 L6.4,0 C9,0 10,1.7 10,4 L10,8.4 C10,10.9 8.8,12.2 6.8,12.2 L3.2,12.2 M6.8,12.2 C8.9,12.2 10,13.7 10,16 L10,23 C10,25.7 8.9,27.3 6.4,27.3 L0,27.3"/><path transform="translate(13.6,0)" d="M0,7 L5.9,0 L5.9,27.3"/><path transform="translate(23.1,0)" d="M0,0 L6.4,0 C9,0 10,1.7 10,4 L10,8.4 C10,10.9 8.8,12.2 6.8,12.2 L3.2,12.2 M6.8,12.2 C8.9,12.2 10,13.7 10,16 L10,23 C10,25.7 8.9,27.3 6.4,27.3 L0,27.3"/></g>
<g role="img" aria-label="113.5" transform="translate(1000.4,22.6)" fill="none" stroke-width="1.7" stroke-linejoin="round" stroke-linecap="butt"><title>113.5</title><path transform="translate(0,0)" d="M0,7 L5.9,0 L5.9,27.3"/><path transform="translate(9.3,0)" d="M0,7 L5.9,0 L5.9,27.3"/><path transform="translate(18.6,0)" d="M0,0 L6.4,0 C9,0 10,1.7 10,4 L10,8.4 C10,10.9 8.8,12.2 6.8,12.2 L3.2,12.2 M6.8,12.2 C8.9,12.2 10,13.7 10,16 L10,23 C10,25.7 8.9,27.3 6.4,27.3 L0,27.3"/><circle cx="34.2" cy="26.65" r="1.35" fill="#231815" stroke="none"/><path transform="translate(38.8,0)" d="M10,0 L0.2,0 L0.2,12.1 L5.2,12.1 C8.4,12.1 10,14 10,17.2 L10,22.4 C10,25.5 8.4,27.3 5.6,27.3 L0,27.3"/></g>
<g role="img" aria-label="42" transform="translate(1146.3,234.6) rotate(-90)" fill="none" stroke-width="1.7" stroke-linejoin="round" stroke-linecap="butt"><title>42</title><path transform="translate(0,0)" d="M5.4,0 L0,19.8 L10,19.8 M6.4,12.6 L6.4,27.3"/><path transform="translate(13.6,0)" d="M0.2,5.6 C0.4,2 2.4,0 5.1,0 C8,0 9.9,2 9.9,5.2 L9.9,8.3 L0.4,27.3 L10.5,27.3"/></g>
<g role="img" aria-label="128" transform="translate(1194.9,272.9) rotate(-90)" fill="none" stroke-width="1.7" stroke-linejoin="round" stroke-linecap="butt"><title>128</title><path transform="translate(0,0)" d="M0,7 L5.9,0 L5.9,27.3"/><path transform="translate(9.5,0)" d="M0.2,5.6 C0.4,2 2.4,0 5.1,0 C8,0 9.9,2 9.9,5.2 L9.9,8.3 L0.4,27.3 L10.5,27.3"/><path transform="translate(23.1,0)" d="M5,13 C2.2,13 0.6,10.4 0.6,6.5 C0.6,2.6 2.2,0 5,0 C7.8,0 9.4,2.6 9.4,6.5 C9.4,10.4 7.8,13 5,13 C8.2,13 10,15.8 10,20.1 C10,24.4 8.2,27.3 5,27.3 C1.8,27.3 0,24.4 0,20.1 C0,15.8 1.8,13 5,13 Z"/></g>
<g role="img" aria-label="50" transform="translate(1067.1,426.6)" fill="none" stroke-width="1.7" stroke-linejoin="round" stroke-linecap="butt"><title>50</title><path transform="translate(0,0)" d="M10,0 L0.2,0 L0.2,12.1 L5.2,12.1 C8.4,12.1 10,14 10,17.2 L10,22.4 C10,25.5 8.4,27.3 5.6,27.3 L0,27.3"/><path transform="translate(13.6,0)" d="M5,0 C8,0 10,5 10,13.65 C10,22.3 8,27.3 5,27.3 C2,27.3 0,22.3 0,13.65 C0,5 2,0 5,0 Z"/></g>
</g>
</svg>
</body></html>
